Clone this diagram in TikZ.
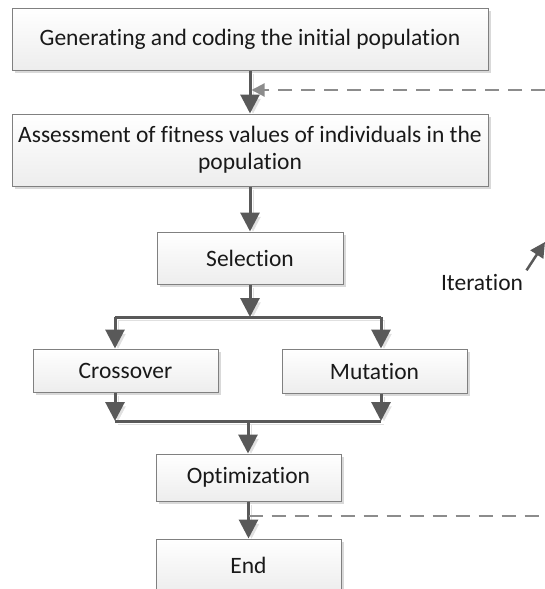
\documentclass[tikz,border=0pt]{standalone}
\usepackage{fontspec}
\setmainfont[Ligatures=NoCommon]{Carlito}
\usepackage{tikz}
\usetikzlibrary{positioning, arrows.meta, shadows}

\definecolor{linegray}{HTML}{595959}
\definecolor{boxgray}{HTML}{808080}
\definecolor{dashgray}{HTML}{8C8C8C}

\tikzset{
  stage/.style={shape=rectangle, draw=boxgray, line width=1pt,
    top color=white, bottom color=black!7,
    drop shadow={shadow xshift=3pt, shadow yshift=-3pt, fill=black!15, opacity=1},
    font=\fontsize{23.5}{27}\selectfont, text=black!90, align=center, inner sep=0pt},
  flow/.style={draw=linegray, line width=3pt, -{Triangle[length=19pt,width=19pt]},
    preaction={draw=black!12, transform canvas={shift={(3pt,-3pt)}}}},
  bus/.style={draw=linegray, line width=3pt,
    preaction={draw=black!12, transform canvas={shift={(3pt,-3pt)}}}},
  back/.style={draw=dashgray, line width=2pt, dash pattern=on 14pt off 9pt},
}

\begin{document}
\begin{tikzpicture}[x=1pt, y=-1pt]
    \useasboundingbox (0,0) rectangle (545,589);

    \node[stage, minimum width=476pt, minimum height=62pt] (gen) at (250,39) {Generating and coding the initial population};
    \node[stage, minimum width=476pt, minimum height=72pt] (assess) at (250,150) {Assessment of fitness values of individuals in the\\population};
    \path [flow] (gen) -- (assess);

    \coordinate (loopTop) at (545,90);
    \path [back, -{Triangle[length=13pt,width=13pt]}, shorten >=1.5pt] (loopTop) -- (loopTop -| gen.south);

    \node[stage, minimum width=186pt, minimum height=52pt] (sel) at (250,258) {Selection};
    \path [flow] (assess) -- (sel);

    \coordinate (fork) at (250,317);
    \coordinate (forkL) at (115,317);
    \coordinate (forkR) at (381,317);
    \path [flow] (sel) -- (fork);
    \draw [bus] (forkL) -- (forkR);

    \node[stage, minimum width=185pt, minimum height=43pt] (cross) at (125.5,370.5) {Crossover};
    \path [flow] (forkL) -- (forkL |- cross.north);
    \node[stage, minimum width=185pt, minimum height=44pt] (mut) at (374.5,371) {Mutation};
    \path [flow] (forkR) -- (forkR |- mut.north);

    \coordinate (joinL) at (115,421);
    \coordinate (joinR) at (381,421);
    \coordinate (join) at (248,421);
    \path [flow] (forkL |- cross.south) -- (joinL);
    \path [flow] (forkR |- mut.south) -- (joinR);
    \draw [bus] (joinL) -- (joinR);

    \node[stage, minimum width=185pt, minimum height=47pt] (opt) at (248.5,477.5) {Optimization};
    \path [flow] (join) -- (join |- opt.north);

    \node[stage, minimum width=185pt, minimum height=52pt] (fin) at (248.5,565) {End};
    \path [flow] (opt) -- (fin);

    \coordinate (loopBot) at (545,516);
    \path [back] (opt.south |- loopBot) -- (loopBot);

    \node[font=\fontsize{23.5}{27}\selectfont, text=black!90] (iter) at (482,282) {Iteration};
    \coordinate (iterTip) at (545,242);
    \path [draw=linegray, line width=2.5pt, -{Triangle[length=15pt,width=15pt]}] (iter.north east) -- (iterTip);

  \end{tikzpicture}
\end{document}
